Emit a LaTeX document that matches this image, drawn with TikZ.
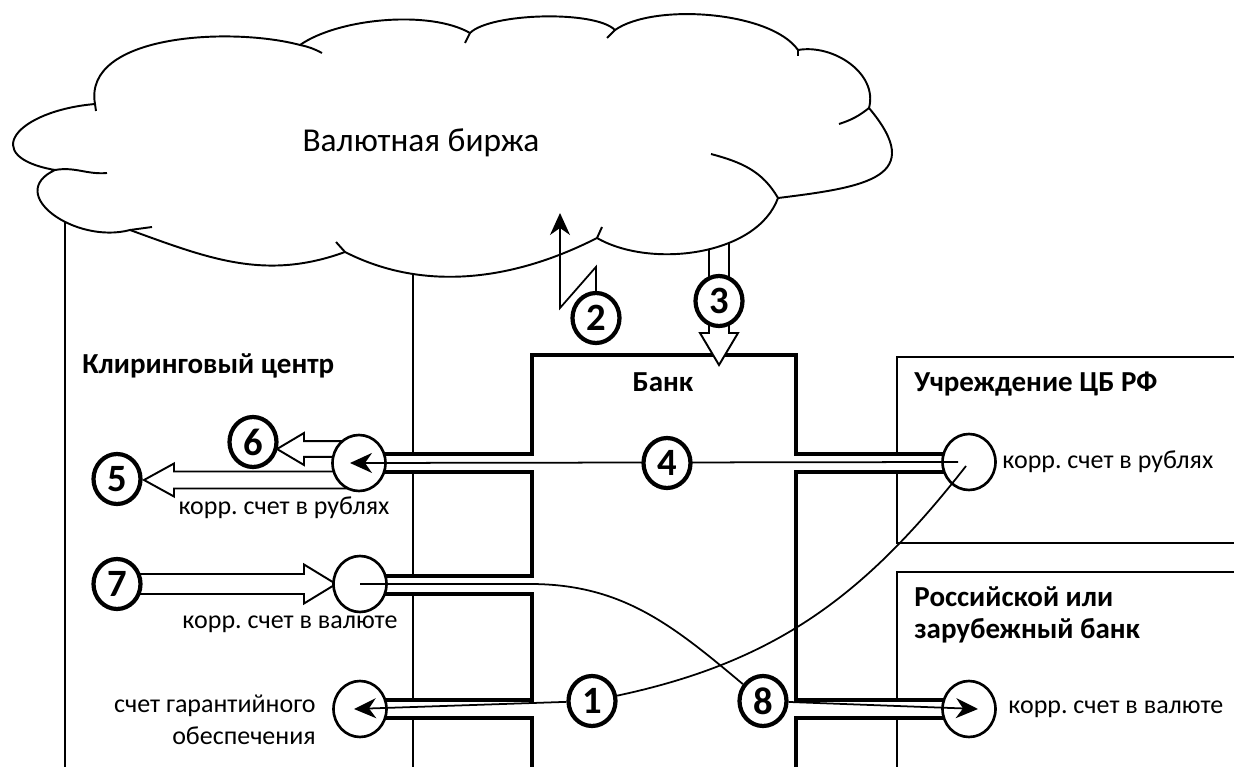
\documentclass[tikz,border=0pt]{standalone}
\usepackage{fontspec}
\setmainfont{Carlito}
\usetikzlibrary{arrows.meta,calc,positioning,intersections,shapes.geometric}
\pgfdeclarelayer{back}
\pgfdeclarelayer{front}
\pgfsetlayers{back,main,front}
\frenchspacing
\tikzset{
  num/.style={ellipse, draw, line width=2.4pt, fill=white, minimum width=0.94cm, minimum height=1cm,
    inner sep=0pt, font=\bfseries\fontsize{22}{22}\selectfont},
  acct/.style={ellipse, draw, line width=1.5pt, fill=white, minimum width=1.06cm, minimum height=1.12cm,
    inner sep=0pt},
  wall/.style={line width=2.3pt},
  bound/.style={line width=1.1pt},
  flow/.style={line width=1pt, -{Stealth[length=0.44cm, width=0.4cm, inset=0.14cm]}},
  fat/.style={draw, line width=1.1pt, fill=white, line join=miter},
  lbl/.style={font=\fontsize{14.8}{18}\selectfont, inner sep=0pt},
  ttl/.style={font=\bfseries\fontsize{16.5}{18}\selectfont, inner sep=0pt},
}
% hollow arrow: tail, angle, length, shaft half width, head half width, head length
\newcommand{\fatArrow}[6]{
    \draw[fat, shift={(#1)}, rotate=#2] (0,#4) -- ({#3-#6},#4) -- ({#3-#6},#5) -- (#3,0)
        -- ({#3-#6},-#5) -- ({#3-#6},-#4) -- (0,-#4)
}

\begin{document}
\begin{tikzpicture}[x=0.02cm, y=-0.02cm]
\useasboundingbox (0,0) rectangle (1234,767);

% cloud
\draw[bound, name path=cloud] (95,104) to[out=100,in=165,looseness=0.85] (300,45)
    to[out=35,in=150,looseness=0.7] (470,33) to[out=45,in=135,looseness=0.5] (615,30)
    to[out=35,in=125,looseness=0.66] (798,50) to[out=10,in=75] (869,108)
    to[out=-50,in=7,looseness=1.8] (778,198) to[out=250,in=-30,looseness=0.85] (597,238)
    to[out=207,in=-27,looseness=0.92] (345,252) to[out=200,in=-20] (130,230)
    to[out=195,in=205,looseness=1.5] (55,170) to[out=170,in=185,looseness=2.6] (95,104);
\draw[bound] (95,104) -- (96,111);
\draw[bound] (300,45) to[bend left=8] (322,53);
\draw[bound] (470,33) -- (465,43);
\draw[bound] (615,30) -- (607,38);
\draw[bound] (798,50) -- (798,56);
\draw[bound] (869,108) to[bend left=10] (839,124);
\draw[bound] (778,198) to[out=120,in=-15] (711,154);
\draw[bound] (597,238) -- (602,227);
\draw[bound] (345,252) -- (336,242);
\draw[bound] (130,230) -- (152,227);
\draw[bound] (55,170) to[out=10,in=185] (107,173);
\node[font=\fontsize{19}{20}\selectfont, inner sep=0pt, anchor=base] (exch) at (421,152) {Валютная биржа};

\path[name path=ccleft] (65,160) -- (65,767);
\path[name path=ccright] (413,160) -- (413,767);
\path[name path=shaftl] (709,160) -- (709,330);
\path[name path=shaftr] (729,160) -- (729,330);
\path[name intersections={of=cloud and ccleft, by=cctopl}];
\path[name intersections={of=cloud and ccright, by=cctopr}];
\path[name intersections={of=cloud and shaftl, by=foot3l}];
\path[name intersections={of=cloud and shaftr, by=foot3r}];

% accounts
\node[acct] (ccrub) at (359,463) {};
\node[acct] (ccval) at (360,584) {};
\node[acct] (ccgar) at (360,709) {};
\node[acct] (cbrub) at (969,462) {};
\node[acct] (fval) at (969,709) {};

% numbers
\begin{pgfonlayer}{front}
\node[num] (n1) at (592,701) {1};
\node[num] (n2) at (596,318) {2};
\node[num] (n3) at (719,301) {3};
\node[num] (n4) at (667,463) {4};
\node[num] (n5) at (117,479) {5};
\node[num] (n6) at (253,442) {6};
\node[num] (n7) at (117,584) {7};
\node[num] (n8) at (763,701) {8};
\end{pgfonlayer}

% labels
\node[ttl, anchor=base west] (cclbl) at (82,373) {Клиринговый центр};
\node[ttl, anchor=base] (banklbl) at (663,391) {Банк};
\node[ttl, anchor=base west] (cblbl) at (914,391) {Учреждение ЦБ РФ};
\node[ttl, anchor=base west, align=left] (fblbl) at (914,638) {Российской или\\зарубежный банк};
\node[lbl, anchor=base] (ccrubl) at (284,514) {корр. счет в рублях};
\node[lbl, anchor=base] (ccvall) at (290,628) {корр. счет в валюте};
\node[lbl, anchor=base east, align=right] (ccgarl) at (316,744) {счет гарантийного\\обеспечения};
\node[lbl, anchor=west] (cbrubl) at (1002,462) {корр. счет в рублях};
\node[lbl, anchor=west] (fvall) at (1008,709) {корр. счет в валюте};

\begin{pgfonlayer}{back}
\draw[bound] (cctopl) -- (65,767);
\draw[bound] (cctopr) -- (413,767);
\draw[bound] (1234,357) -- (897,357) -- (897,543) -- (1234,543);
\draw[bound] (1234,572) -- (897,572) -- (897,767);
\fill[white] (383,454) rectangle (532,472);
\fill[white] (383,576) rectangle (532,594);
\fill[white] (383,700) rectangle (532,718);
\fill[white] (796,454) rectangle (945,472);
\fill[white] (796,700) rectangle (945,718);
% bank with its channels
\draw[wall] (370,454) -- (532,454) -- (532,355) -- (796,355) -- (796,454) -- (960,454);
\draw[wall] (370,472) -- (532,472) -- (532,576) -- (370,576);
\draw[wall] (370,594) -- (532,594) -- (532,700) -- (370,700);
\draw[wall] (370,718) -- (532,718) -- (532,767);
\draw[wall] (960,472) -- (796,472) -- (796,700) -- (960,700);
\draw[wall] (960,718) -- (796,718) -- (796,767);
% hollow arrows
\draw[fat] (foot3l) -- (709,333) -- (700,333) -- (719,365) -- (738,333) -- (729,333) -- (foot3r);
\fatArrow{$(ccrub.center)+(-3,17)$}{180}{212}{8.5}{16.5}{30};
\fatArrow{$(ccrub.center)+(-9,-14)$}{180}{73}{7.8}{16}{27};
\fatArrow{n7.center}{0}{219}{10}{19.5}{32};
\end{pgfonlayer}

% flows
\draw[flow] (n2.north) -- ++(0,-24) -- (560,308) -- (560,213);
\draw[flow] ($(cbrub.center)+(-11,0)$) -- ($(ccrub.center)+(-9,0)$);
\draw[line width=1pt] ($(cbrub.center)+(-3,4)$) to[out=-128,in=12] (n1);
\draw[flow] (n1) -- ($(ccgar.center)+(-6,0)$);
\draw[line width=1pt] (ccval.center) -- ++(170,0) to[out=0,in=140] (n8);
\draw[flow] (n8) -- ($(fval.center)+(9,0)$);
\end{tikzpicture}
\end{document}
